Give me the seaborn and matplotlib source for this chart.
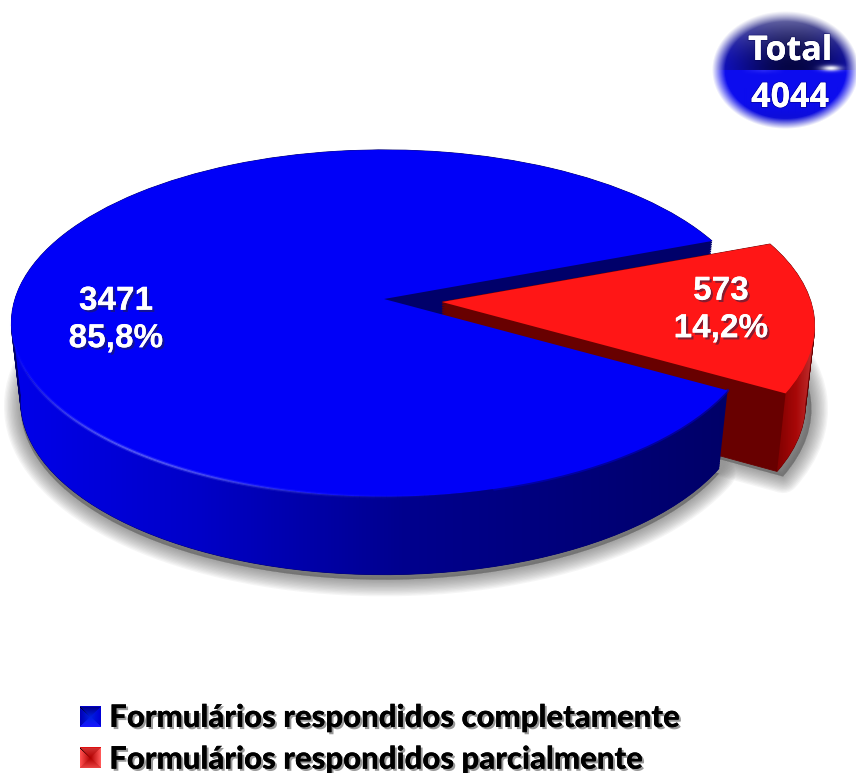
import numpy as np
import matplotlib
matplotlib.use("Agg")
import matplotlib.pyplot as plt
import matplotlib.patheffects as pe
from matplotlib.patches import Wedge, Polygon, Patch
from matplotlib.collections import LineCollection
from matplotlib.colors import LinearSegmentedColormap
from matplotlib.transforms import Transform, Affine2D
import seaborn as sns

categories = ["Formulários respondidos completamente", "Formulários respondidos parcialmente"]
counts = [3471, 573]
percents = ["85,8%", "14,2%"]
total = 4044

sns.set_theme(style="white")
top_blue, top_red = sns.color_palette(["#0000f8", "#ff1616"])
CX, CY, R, B, K = 384.0, 299.0, 369.0, 170.0, 0.14
DEPTH, TAPER = 78.0, 0.025


class Persp(Transform):
    input_dims = output_dims = 2
    is_affine = False
    has_inverse = False

    def transform_non_affine(self, v):
        v = np.asarray(v, dtype=float)
        w = 1 + K * v[:, 1]
        return np.column_stack([CX + R * v[:, 0] / w, CY - B * v[:, 1] / w])


def layer(t, dx=0.0, dy=0.0):
    return Persp() + Affine2D().translate(-CX, 0).scale(1 - TAPER * t, 1).translate(CX + dx, DEPTH * t + dy)


fig = plt.figure(figsize=(8.56, 7.73), dpi=100)
ax = fig.add_axes([0, 0, 1, 1])
wedges, _ = ax.pie(counts, startangle=21, colors=[top_blue, top_red], wedgeprops=dict(linewidth=0))
blue, red = wedges
RED_DX, RED_DY = 58.0, 3.0


def clone(w, tr, **kw):
    p = Wedge(w.center, w.r, w.theta1, w.theta2, transform=tr + ax.transData, **kw)
    ax.add_patch(p)
    return p


# soft ground shadow
for lw in np.linspace(24, 1, 13):
    for w, dx, dy in ((blue, 0, 0), (red, RED_DX + 6, RED_DY)):
        clone(w, layer(1, dx, dy + 5), facecolor=(0.3, 0.3, 0.3, 0.05),
              edgecolor=(0.3, 0.3, 0.3, 0.05), linewidth=lw, zorder=1, joinstyle="round")

# extruded bodies
for t in np.linspace(1, 0, 45):
    clone(blue, layer(t), facecolor="#00006a", edgecolor="#00006a", linewidth=0.6, zorder=2)
for t in np.linspace(1, 0, 45):
    clone(red, layer(t, RED_DX, RED_DY), facecolor="#680000", edgecolor="#680000", linewidth=0.6, zorder=3)

red.set_transform(layer(0, RED_DX, RED_DY) + ax.transData)
red.set_zorder(6)
blue.set_transform(layer(0) + ax.transData)
blue.set_zorder(8)


def wall_polygon(th1, th2, dx=0.0, dy=0.0):
    th = np.radians(np.linspace(th1, th2, 200))
    unit = np.column_stack([np.cos(th), np.sin(th)])
    return np.vstack([layer(0, dx, dy).transform(unit), layer(1, dx, dy).transform(unit)[::-1]])


def gradient_wall(pts, cmap, x0, x1, y0, y1, zorder):
    poly = Polygon(pts, closed=True, transform=ax.transData)
    grad = np.linspace(0, 1, 512).reshape(1, -1)
    im = ax.imshow(grad, cmap=cmap, extent=(x0, x1, y1, y0), aspect="auto", zorder=zorder, interpolation="bilinear")
    im.set_clip_path(poly)


blue_cmap = LinearSegmentedColormap.from_list("bw", [(0, "#0000ec"), (0.27, "#0000c8"), (0.55, "#00008e"), (1, "#000068")])
for a, b in ((150, 186), (186, blue.theta2)):
    gradient_wall(wall_polygon(a, b), blue_cmap, 0, 730, 280, 600, 7)
red_cmap = LinearSegmentedColormap.from_list("rw", [(0, "#7c0000"), (0.45, "#a80808"), (0.8, "#c03030"), (1, "#cc7070")])
for a, b in ((red.theta1, 352), (352, red.theta2)):
    gradient_wall(wall_polygon(a, b, RED_DX, RED_DY), red_cmap, 775, 822, 300, 490, 5)

# rim highlight along the front of the blue disc
th = np.radians(np.linspace(185, 300, 160))
rim = layer(0).transform(np.column_stack([np.cos(th), np.sin(th)]))
segs = np.stack([rim[:-1], rim[1:]], axis=1)
glow = np.exp(-((np.linspace(-1, 1, len(segs)) + 0.15) / 0.42) ** 2)
for lw, a in ((3.0, 0.22), (1.3, 0.6)):
    rgba = np.column_stack([np.full_like(glow, 0.45), np.full_like(glow, 0.48), np.ones_like(glow), glow * a])
    ax.add_collection(LineCollection(segs, colors=rgba, linewidths=lw, zorder=9))
# soft junction on the right of the disc
th = np.radians(np.linspace(285, blue.theta2, 80))
rim = layer(0).transform(np.column_stack([np.cos(th), np.sin(th)]))
ax.plot(rim[:, 0], rim[:, 1], color="#0000c0", lw=2.5, alpha=0.6, zorder=7.5)

# value labels
shadow = [pe.withSimplePatchShadow(offset=(1.6, -1.6), shadow_rgbFace="#222244", alpha=0.55), pe.Normal()]
for (x, y), n, p in zip(((116, 320), (721, 310)), counts, percents):
    ax.text(x, y, f"{n}\n{p}", color="white", fontsize=24, fontweight="bold", family="Liberation Sans",
            ha="center", va="center", linespacing=1.27, zorder=12, path_effects=shadow)

# "Total" badge
bx, by, ba, bb = 785.0, 70.0, 73.0, 59.0
yy, xx = np.mgrid[8:133, 708:861]
u, v = (xx + 0.5 - bx) / ba, (yy + 0.5 - by) / bb
r = np.hypot(u, v)
img = np.zeros(u.shape + (4,))
upper = np.clip(-v, 0, 1)
dark = np.exp(-((u - 0.1) / 0.85) ** 2)
img[..., 0] = np.where(v < 0, 20 + 130 * upper ** 2 - 15 * dark, 12 + 35 * np.clip(v - 0.75, 0, 1))
img[..., 1] = img[..., 0]
img[..., 2] = np.where(v < 0, 235 - 165 * dark * (1 - upper ** 1.6) - 40 * upper, 238 - 40 * np.clip(v - 0.55, 0, 1) * 2)
spec = np.exp(-(((u - 0.62) / 0.13) ** 2 + ((v + 0.03) / 0.05) ** 2))
line = np.exp(-(v / 0.05) ** 2) * np.clip(1 - np.abs(u + 0.3) / 0.3, 0, 1) * (v > 0)
for c, g in zip(range(3), (245, 245, 255)):
    img[..., c] = img[..., c] * (1 - spec) + g * spec
    img[..., c] = img[..., c] * (1 - 0.35 * line) + (90 if c < 2 else 255) * 0.35 * line
img[..., :3] = np.clip(img[..., :3] / 255, 0, 1)
img[..., 3] = np.clip((1 - r) / 0.18, 0, 1)
ax.imshow(img, extent=(708, 861, 133, 8), aspect="auto", zorder=10, interpolation="bilinear")
badge_fx = [pe.withStroke(linewidth=1.5, foreground=(0, 0, 0.3, 0.35)), pe.Normal()]
for txt, y in (("Total", 51), (str(total), 98)):
    ax.text(790, y, txt, color="white", fontsize=24.5, fontweight="bold", family="Open Sans",
            ha="center", va="center", zorder=12, path_effects=badge_fx)

# legend
handles = [Patch(facecolor="#0000c8", edgecolor="none"), Patch(facecolor="#e01010", edgecolor="none")]
leg = ax.legend(handles, categories, loc="upper left", bbox_to_anchor=(80 / 856, 1 - 704 / 773),
                frameon=False, handlelength=0.66, handleheight=0.66,
                handletextpad=0.28, labelspacing=0.44, borderpad=0, borderaxespad=0,
                prop=dict(family="Lato", weight="black", size=22.4))
leg.set_zorder(12)
for t in leg.get_texts():
    t.set_color("black")
    t.set_path_effects([pe.withSimplePatchShadow(offset=(1.5, -1.5), shadow_rgbFace="#555555", alpha=0.6), pe.Normal()])


def bevel(rgb_top, rgb_left, rgb_right, rgb_bottom, rgb_mid, y0):
    n = 21
    vv, uu = np.mgrid[-1:1:n * 1j, -1:1:n * 1j]
    out = np.zeros((n, n, 3))
    masks = (vv < -np.abs(uu), uu < -np.abs(vv), uu >= np.abs(vv), vv >= np.abs(uu))
    for m, col in zip(masks, (rgb_top, rgb_left, rgb_right, rgb_bottom)):
        out[m] = matplotlib.colors.to_rgb(col)
    mid = np.clip(1 - np.maximum(np.abs(uu), np.abs(vv)), 0, 1)[..., None]
    out = out * (1 - mid) + np.array(matplotlib.colors.to_rgb(rgb_mid)) * mid
    ax.imshow(out, extent=(80, 101, y0 + 20, y0), aspect="auto", zorder=13, interpolation="bilinear")


bevel("#000090", "#0000b8", "#0000d8", "#1818ff", "#0020e0", 707)
bevel("#d03030", "#ff5050", "#ff5858", "#e84040", "#b00000", 748)

ax.set_aspect("auto")
ax.set_xlim(0, 856)
ax.set_ylim(773, 0)
ax.axis("off")
fig.savefig("out.png", dpi=100, facecolor="white")
